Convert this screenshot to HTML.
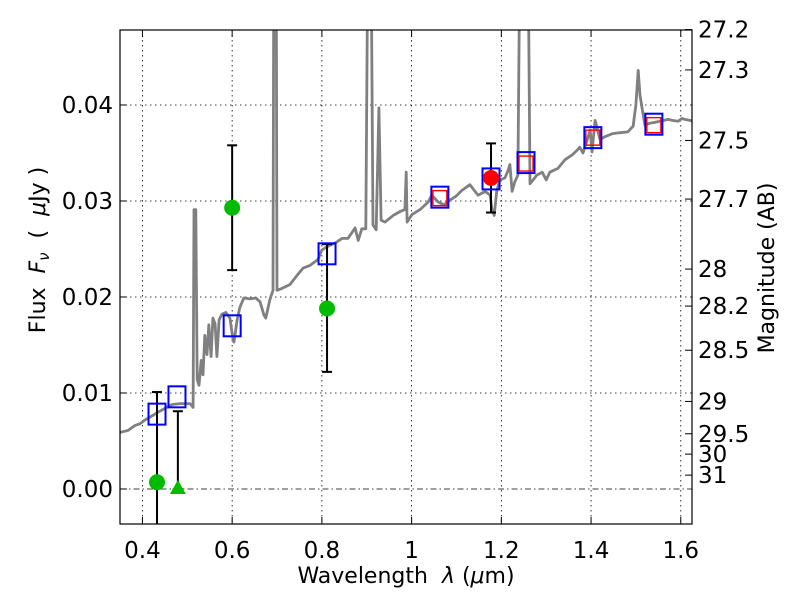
<!DOCTYPE html>
<html><head><meta charset="utf-8"><style>
body{margin:0;background:#fff}
svg{display:block;font-family:"DejaVu Sans","Liberation Sans",sans-serif}
</style></head><body>
<svg id="chart" width="800" height="600" viewBox="0 0 800 600" xmlns="http://www.w3.org/2000/svg">
<rect width="800" height="600" fill="#fff"/>
<defs><clipPath id="pc"><rect x="120" y="30" width="572" height="494"/></clipPath></defs>
<g id="grid"></g>
<g id="plot" clip-path="url(#pc)"></g>
<g id="axes"></g>
</svg>
<script>
const xTicks=[0.4,0.6,0.8,1,1.2,1.4,1.6];
const xTickLabels=["0.4","0.6","0.8","1","1.2","1.4","1.6"];
const yTicks=[0,0.01,0.02,0.03,0.04];
const yTickLabels=["0.00","0.01","0.02","0.03","0.04"];
const magTicks=[27.2,27.3,27.5,27.7,28,28.2,28.5,29,29.5,30,31];
const magTickLabels=["27.2","27.3","27.5","27.7","28","28.2","28.5","29","29.5","30","31"];
const specWave=[.350,.368,.383,.395,.406,.417,.435,.450,.466,.484,.506,.513,.515,.519,.522,.526,.531,.535,.539,.544,.548,.553,.557,.562,.566,.571,.577,.586,.595,.602,.604,.611,.617,.626,.640,.653,.662,.671,.675,.684,.691,.693,.698,.700,.711,.729,.742,.758,.774,.791,.800,.807,.818,.829,.845,.858,.867,.874,.881,.889,.898,.903,.909,.914,.921,.927,.932,.941,.959,.974,.985,.988,.990,1.001,1.019,1.037,1.045,1.059,1.072,1.086,1.099,1.112,1.130,1.148,1.164,1.175,1.179,1.184,1.190,1.197,1.208,1.215,1.219,1.224,1.230,1.237,1.242,1.259,1.264,1.271,1.279,1.291,1.300,1.308,1.326,1.342,1.358,1.369,1.375,1.382,1.391,1.398,1.402,1.409,1.420,1.431,1.447,1.462,1.482,1.494,1.496,1.500,1.505,1.509,1.520,1.531,1.543,1.554,1.572,1.581,1.594,1.603,1.609,1.620,1.630];
const specFlux=[.0059,.0061,.0066,.0068,.0072,.0075,.0080,.0084,.0088,.0089,.0089,.0085,.0291,.0291,.0114,.0108,.0134,.0119,.0160,.0140,.0171,.0138,.0178,.0172,.0138,.0176,.0182,.0184,.0178,.0155,.0153,.0176,.0189,.0199,.0198,.0199,.0195,.0181,.0178,.0197,.0207,.06,.06,.0207,.0209,.0213,.0221,.0230,.0233,.0239,.0249,.0251,.0254,.0256,.0261,.0261,.0267,.0272,.0259,.0271,.0271,.06,.06,.0275,.0270,.0397,.0280,.0278,.0285,.0289,.0291,.0330,.0278,.0286,.0291,.0299,.0306,.0299,.0296,.0301,.0305,.0311,.0317,.0306,.0310,.0306,.0291,.0285,.0311,.0322,.0324,.0332,.0338,.0310,.0320,.0327,.06,.06,.0318,.0322,.0327,.0330,.0322,.0330,.0334,.0343,.0348,.0353,.0356,.0350,.0363,.0374,.0351,.0384,.0364,.0367,.0370,.0371,.0372,.0378,.0386,.0400,.0436,.0410,.0379,.0381,.0382,.0383,.0385,.0384,.0383,.0386,.0385,.0384,.0383,.0383];
const bbWave=[0.4325,0.477,0.600,0.8115,1.063,1.177,1.255,1.404,1.540];
const bbFlux=[0.0078,0.0096,0.0170,0.0245,0.0304,0.0323,0.0340,0.0366,0.0380];
const modWave=[1.063,1.255,1.404,1.540];
const modFlux=[0.0303,0.0339,0.0366,0.0379];
const greenWave=[0.4325,0.600,0.8115];
const greenFlux=[0.0007,0.0293,0.0188];
const greenLo=[-0.009,0.0228,0.0122];
const greenHi=[0.0101,0.0358,0.0255];
const triWave=[0.479];
const triFlux=[0.0];
const triLo=[0.0];
const triHi=[0.0081];
const redWave=[1.177];
const redFlux=[0.0324];
const redLo=[0.0288];
const redHi=[0.0360];

const X0=120,X1=692,Y0=30,Y1=524;
const xmin=0.35,xmax=1.625;
function sx(v){return X0+(v-xmin)/(xmax-xmin)*(X1-X0);}
function sy(v){return 489-v*9600;}
function magToFlux(m){return Math.pow(10,(23.9-m)/2.5);}
const NS="http://www.w3.org/2000/svg";
function mk(tag,attrs,parent,text){const e=document.createElementNS(NS,tag);for(const k in attrs)e.setAttribute(k,attrs[k]);if(text!==undefined)e.textContent=text;parent.appendChild(e);return e;}
const grid=document.getElementById('grid'),plot=document.getElementById('plot'),axes=document.getElementById('axes');

xTicks.forEach(v=>{const l=mk('line',{x1:sx(v),x2:sx(v),y1:Y0,y2:Y1,stroke:'#000','stroke-width':0.8,'stroke-dasharray':'1.5,3.5'},grid);

});
yTicks.forEach(v=>{const l=mk('line',{x1:X0,x2:X1,y1:sy(v),y2:sy(v),stroke:'#000','stroke-width':0.8,'stroke-dasharray':v===0?'6,3,1.5,3':'1.5,3.5'},grid);

});

let d='';specWave.forEach((w,i)=>{d+=(i?'L':'M')+sx(w).toFixed(1)+','+sy(specFlux[i]).toFixed(1);});
const sp=mk('path',{d:d,fill:'none',stroke:'#808080','stroke-width':2.8,'stroke-linejoin':'round'},plot);



function errbar(w,lo,hi,name){const x=sx(w);
const g=mk('g',{},plot);


mk('line',{x1:x,x2:x,y1:sy(lo),y2:sy(hi),stroke:'#000','stroke-width':2},g);
mk('line',{x1:x-5,x2:x+5,y1:sy(hi),y2:sy(hi),stroke:'#000','stroke-width':2},g);
mk('line',{x1:x-5,x2:x+5,y1:sy(lo),y2:sy(lo),stroke:'#000','stroke-width':2},g);}
greenWave.forEach((w,i)=>errbar(w,greenLo[i],greenHi[i],'green-errorbar'));
triWave.forEach((w,i)=>errbar(w,triLo[i],triHi[i],'limit-errorbar'));
redWave.forEach((w,i)=>errbar(w,redLo[i],redHi[i],'red-errorbar'));

bbWave.forEach((w,i)=>{const r=mk('rect',{x:sx(w)-8.5,y:sy(bbFlux[i])-10.5,width:17,height:21,fill:'none',stroke:'#0000ff','stroke-width':2},plot);

});
modWave.forEach((w,i)=>{const r=mk('rect',{x:sx(w)-7,y:sy(modFlux[i])-7.5,width:14,height:15,fill:'none',stroke:'#ff0000','stroke-width':1.4},plot);

});
greenWave.forEach((w,i)=>{const c=mk('circle',{cx:sx(w),cy:sy(greenFlux[i]),r:8,fill:'#00bb00'},plot);

});
triWave.forEach((w,i)=>{const x=sx(w),y=sy(triFlux[i]);const t=mk('polygon',{points:`${x},${y-9} ${x-8},${y+5} ${x+8},${y+5}`,fill:'#00bb00'},plot);

});
redWave.forEach((w,i)=>{const c=mk('circle',{cx:sx(w),cy:sy(redFlux[i]),r:8,fill:'#ff0000'},plot);

});

const fr=mk('rect',{x:X0,y:Y0,width:X1-X0,height:Y1-Y0,fill:'none',stroke:'#000','stroke-width':1.2},axes);


xTicks.forEach((v,i)=>{const x=sx(v);
mk('line',{x1:x,x2:x,y1:Y1,y2:Y1-7,stroke:'#000'},axes);mk('line',{x1:x,x2:x,y1:Y0,y2:Y0+7,stroke:'#000'},axes);
const t=mk('text',{x:x,y:558,'font-size':23,'text-anchor':'middle'},axes,xTickLabels[i]);

});
yTicks.forEach((v,i)=>{const y=sy(v);
mk('line',{x1:X0,x2:X0+7,y1:y,y2:y,stroke:'#000'},axes);
const t=mk('text',{x:113,y:y+8,'font-size':23,'text-anchor':'end'},axes,yTickLabels[i]);

});
magTicks.forEach((m,i)=>{const y=sy(magToFlux(m));
mk('line',{x1:X1,x2:X1-7,y1:y,y2:y,stroke:'#000'},axes);
const t=mk('text',{x:698,y:y+8,'font-size':23},axes,magTickLabels[i]);

});
</script>
<svg style="position:absolute;left:0;top:0" width="800" height="600">
<text x="406" y="583" font-size="22" text-anchor="middle" font-family="DejaVu Sans,Liberation Sans,sans-serif">Wavelength&#160;&#160;<tspan font-style="italic">λ</tspan> (<tspan font-style="italic">μ</tspan>m)</text>
<text transform="translate(45,250) rotate(-90)" font-size="22" text-anchor="middle" font-family="DejaVu Sans,Liberation Sans,sans-serif">Flux&#160;&#160;<tspan font-style="italic">F</tspan><tspan font-style="italic" font-size="15" dy="4">ν</tspan><tspan dy="-4">&#160;&#160;(&#160;&#160;</tspan><tspan font-style="italic">μ</tspan>Jy )</text>
<text transform="translate(774,268) rotate(-90)" font-size="22" text-anchor="middle" font-family="DejaVu Sans,Liberation Sans,sans-serif">Magnitude (AB)</text>
</svg>
</body></html>
